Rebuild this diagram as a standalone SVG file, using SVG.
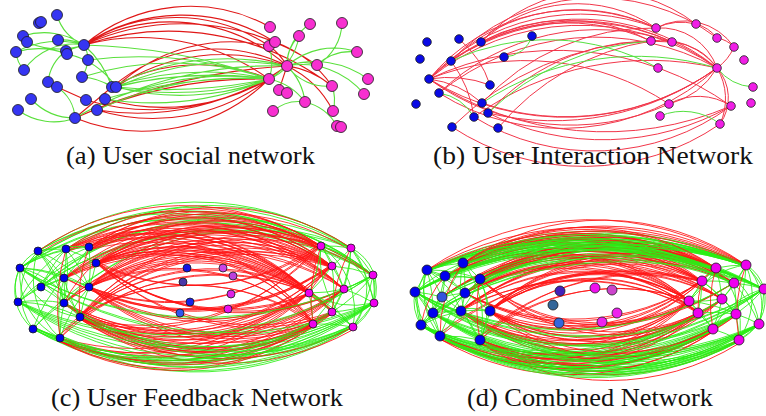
<svg xmlns="http://www.w3.org/2000/svg" width="766" height="416" viewBox="0 0 766 416">
<style>
path{fill:none}
.ra{stroke:#e01818;stroke-width:1.1}
.ga{stroke:#5ae03c;stroke-width:1.1}
.rb{stroke:#f2364a;stroke-width:1}
.gb{stroke:#55e040;stroke-width:1}
.rc{stroke:#ff1414;stroke-width:.85}
.gc{stroke:#2aee14;stroke-width:.85}
circle{stroke:#1a1a1a;stroke-width:.8}
.ab{fill:#3535f2}.ap{fill:#f72fd0}
.bb{fill:#0a0ae6}.bp{fill:#f01ee6}
.cb{fill:#0000ee}.cp{fill:#ee00ee}
.cap{font-family:"Liberation Serif","Times New Roman",serif;font-size:25px;fill:#111}
</style>
<rect width="766" height="416" fill="#fff"/>
<g id="connectors">
<g id="edges-a">
<path class="ra" d="M84 45 A165 165 0 0 1 270 27 M84 45 A167 167 0 0 1 269 46 M84 45 A175 175 0 0 1 275 42 M84 45 A175 175 0 0 1 287 66 M84 45 A240 240 0 0 1 317 65 M84 45 A270 270 0 0 1 332 86 M84 45 A220 220 0 0 1 269 79 M112 87 A160 160 0 0 1 287 66 M116 87 A190 190 0 0 1 287 66 M112 87 A180 180 0 0 1 269 79 M116 87 A170 170 0 0 1 269 46 M75 118 A600 600 0 0 1 287 66 M75 118 A450 450 0 0 1 269 79 M75 118 L112 87 M269 79 A180 180 0 0 1 75 118 M269 79 A190 190 0 0 1 97 110 M269 79 A210 210 0 0 1 105 99 M287 66 A230 230 0 0 1 86 100 M287 66 A260 260 0 0 1 97 110 M57 87 L86 100 M269 46 A60 60 0 0 1 287 66 M275 42 A120 120 0 0 1 332 86 M287 66 A90 90 0 0 1 332 86 M287 66 A100 100 0 0 1 333 111 M287 66 L279 90"/>
<path class="ga" d="M84 45 A45 45 0 0 1 57 15 M23 36 A70 70 0 0 1 84 45 M16 52 A90 90 0 0 1 84 45 M84 45 A80 80 0 0 1 27 42 M58 40 A50 50 0 0 1 84 45 M66 51 L84 45 M84 45 A30 30 0 0 1 88 60 M24 70 A60 60 0 0 1 84 45 M24 70 A30 30 0 0 1 16 52 M88 60 A40 40 0 0 1 82 77 M48 82 A45 45 0 0 1 66 51 M57 87 A40 40 0 0 1 75 118 M75 118 A60 60 0 0 1 31 99 M75 118 A60 60 0 0 1 18 110 M82 77 A60 60 0 0 1 112 87 M67 54 A80 80 0 0 1 116 87 M84 45 A100 100 0 0 1 112 87 M16 52 A80 80 0 0 1 67 54"/>
<path class="ga" d="M112 87 A300 300 0 0 1 269 79 M116 87 A400 400 0 0 1 269 79 M112 87 A250 250 0 0 1 287 66 M269 79 A350 350 0 0 1 112 87 M269 79 A250 250 0 0 1 116 87 M97 110 A350 350 0 0 1 269 79 M105 99 A500 500 0 0 1 269 79 M82 77 A300 300 0 0 1 269 79 M84 45 A600 600 0 0 1 269 79 M88 60 A400 400 0 0 1 269 79 M75 118 A400 400 0 0 1 287 66 M75 118 A300 300 0 0 1 269 79 M269 79 A300 300 0 0 1 105 99 M116 87 A300 300 0 0 1 287 66 M112 87 A450 450 0 0 1 269 79 M269 79 A500 500 0 0 1 116 87"/>
<path class="ga" d="M287 66 A40 40 0 0 1 317 65 M287 66 A70 70 0 0 1 357 52 M287 66 A90 90 0 0 1 368 79 M332 86 A50 50 0 0 1 287 66 M287 66 A80 80 0 0 1 364 94 M287 66 A60 60 0 0 1 305 102 M287 66 A40 40 0 0 1 299 36 M287 66 A50 50 0 0 1 310 24 M342 23 A50 50 0 0 1 317 65 M317 65 A50 50 0 0 1 357 52 M299 36 A60 60 0 0 1 269 79 M269 79 A60 60 0 0 1 305 102 M273 111 A40 40 0 0 1 305 102 M305 102 A50 50 0 0 1 337 126 M332 86 A40 40 0 0 1 333 111 M287 66 A40 40 0 0 1 269 79 M269 46 A50 50 0 0 1 269 79"/>
</g>
<g id="edges-b">
<path class="rb" d="M429 79 A190 190 0 0 1 656 28 M429 79 A200 200 0 0 1 651 41 M429 79 A220 220 0 0 1 672 42 M429 79 A240 240 0 0 1 717 68 M429 79 A260 260 0 0 1 669 104 M429 79 A300 300 0 0 1 731 106 M481 42 A140 140 0 0 1 656 28 M481 42 A220 220 0 0 1 717 68 M481 42 A160 160 0 0 1 696 24 M451 61 A180 180 0 0 1 656 28 M451 61 A230 230 0 0 1 717 68 M451 61 A200 200 0 0 1 717 38 M459 39 A100 100 0 0 1 490 85 M451 61 A120 120 0 0 1 474 117 M429 79 A100 100 0 0 1 482 103 M429 79 A120 120 0 0 1 490 85 M439 93 A250 250 0 0 1 717 68 M439 93 A230 230 0 0 1 672 42 M452 127 A300 300 0 0 1 651 41 M498 128 A250 250 0 0 1 651 41 M488 113 A220 220 0 0 1 672 42 M482 103 A230 230 0 0 1 656 28 M474 117 A300 300 0 0 1 717 68 M429 79 A210 210 0 0 1 656 28 M481 42 A180 180 0 0 1 651 41"/>
<path class="rb" d="M717 68 A260 260 0 0 1 429 79 M717 68 A230 230 0 0 1 439 93 M731 106 A230 230 0 0 1 474 117 M720 124 A240 240 0 0 1 452 127 M669 104 A240 240 0 0 1 429 79 M731 106 A260 260 0 0 1 488 113 M717 68 A280 280 0 0 1 488 113 M731 106 A320 320 0 0 1 429 79 M717 68 A260 260 0 0 1 482 103 M656 28 A60 60 0 0 1 696 24 M696 24 A40 40 0 0 1 717 38 M717 38 A30 30 0 0 1 734 47 M656 28 A60 60 0 0 1 717 68 M651 41 A70 70 0 0 1 717 68 M672 42 A60 60 0 0 1 717 68 M717 68 A60 60 0 0 1 720 124 M717 68 A45 45 0 0 1 720 124 M669 104 A60 60 0 0 1 731 106 M717 68 A80 80 0 0 1 669 104 M734 47 A50 50 0 0 1 717 68 M656 28 A60 60 0 0 1 734 47"/>
<path class="gb" d="M532 36 A30 30 0 0 1 504 57 M451 61 A230 230 0 0 1 658 68 M488 113 A260 260 0 0 1 651 41 M482 103 A280 280 0 0 1 717 68 M439 93 A50 50 0 0 1 474 117 M753 87 A50 50 0 0 1 717 68 M660 116 A60 60 0 0 1 720 124"/>
</g>
<g id="edges-c">
<path id="c-gu" class="gc" d="M38 251 A282 282 0 0 1 351 248 M20 268 A272 272 0 0 1 321 246 M20 268 A318 318 0 0 1 373 275 M66 249 A257 257 0 0 1 351 248 M18 302 A315 315 0 0 1 373 275 M41 287 A280 280 0 0 1 351 248 M38 251 A302 302 0 0 1 373 275 M89 247 A256 256 0 0 1 373 275 M33 329 A290 290 0 0 1 351 248 M20 268 A298 298 0 0 1 351 248 M64 278 A278 278 0 0 1 373 275 M41 287 A252 252 0 0 1 321 246 M18 302 A275 275 0 0 1 321 246 M38 251 A265 265 0 0 1 332 266 M66 249 A276 276 0 0 1 373 275 M20 268 A281 281 0 0 1 332 266 M41 287 A299 299 0 0 1 373 275 M64 303 A260 260 0 0 1 351 248"/>
<path id="c-gl" class="gc" d="M353 327 A320 320 0 0 1 33 329 M374 303 A356 356 0 0 1 18 302 M353 327 A293 293 0 0 1 60 338 M313 324 A280 280 0 0 1 33 329 M374 303 A341 341 0 0 1 33 329 M353 327 A335 335 0 0 1 18 302 M373 275 A353 353 0 0 1 20 268 M374 303 A314 314 0 0 1 60 338 M332 312 A300 300 0 0 1 33 329 M353 327 A273 273 0 0 1 80 317 M373 275 A355 355 0 0 1 18 302 M374 303 A354 354 0 0 1 20 268 M353 327 A289 289 0 0 1 64 303 M374 303 A294 294 0 0 1 80 317"/>
<path id="c-ru" class="rc" d="M66 249 A230 230 0 0 1 321 246 M66 249 A240 240 0 0 1 332 266 M66 249 A250 250 0 0 1 344 289 M66 249 A220 220 0 0 1 309 293 M89 247 A210 210 0 0 1 321 246 M89 247 A218 218 0 0 1 332 266 M89 247 A200 200 0 0 1 309 293 M89 247 A205 205 0 0 1 313 324 M96 263 A205 205 0 0 1 321 246 M96 263 A212 212 0 0 1 332 266 M96 263 A225 225 0 0 1 344 289 M96 263 A190 190 0 0 1 309 293 M96 263 A215 215 0 0 1 332 312 M64 278 A235 235 0 0 1 321 246 M64 278 A240 240 0 0 1 332 266 M89 287 A212 212 0 0 1 321 246 M89 287 A198 198 0 0 1 309 293 M89 287 A202 202 0 0 1 313 324 M64 303 A245 245 0 0 1 332 266 M80 317 A225 225 0 0 1 321 246 M80 317 A205 205 0 0 1 309 293 M80 317 A210 210 0 0 1 313 324 M60 338 A250 250 0 0 1 332 266 M89 247 A235 235 0 0 1 351 248 M96 263 A250 250 0 0 1 373 275 M89 287 A230 230 0 0 1 344 289 M38 251 A255 255 0 0 1 321 246 M64 278 A245 245 0 0 1 332 312 M64 303 A222 222 0 0 1 309 293 M80 317 A228 228 0 0 1 332 266 M66 249 A245 245 0 0 1 332 312 M96 263 A195 195 0 0 1 313 324 M89 247 A230 230 0 0 1 344 289 M60 338 A228 228 0 0 1 309 293 M64 278 A220 220 0 0 1 309 293 M89 287 A218 218 0 0 1 332 266"/>
<path id="c-rl" class="rc" d="M321 246 A225 225 0 0 1 96 263 M332 266 A245 245 0 0 1 89 287 M344 289 A265 265 0 0 1 80 317 M309 293 A230 230 0 0 1 80 317 M332 312 A250 250 0 0 1 80 317 M313 324 A235 235 0 0 1 80 317 M313 324 A255 255 0 0 1 60 338 M332 312 A270 270 0 0 1 60 338 M309 293 A220 220 0 0 1 89 287 M344 289 A280 280 0 0 1 64 303 M332 266 A265 265 0 0 1 64 278 M353 327 A275 275 0 0 1 80 317 M313 324 A250 250 0 0 1 64 303 M332 312 A235 235 0 0 1 96 263 M309 293 A215 215 0 0 1 96 263 M321 246 A240 240 0 0 1 80 317 M332 266 A275 275 0 0 1 60 338 M309 293 A250 250 0 0 1 60 338 M344 289 A245 245 0 0 1 96 263 M313 324 A225 225 0 0 1 89 287 M332 312 A268 268 0 0 1 64 303 M332 266 A255 255 0 0 1 80 317 M321 246 A232 232 0 0 1 89 287 M309 293 A245 245 0 0 1 64 303 M332 312 A243 243 0 0 1 89 287 M344 289 A285 285 0 0 1 60 338"/>
<use href="#c-ru" transform="translate(0,20.2) scale(1,0.93)"/>
<use href="#c-rl" transform="translate(0,-20.2) scale(1,1.07)"/>
<use href="#c-gl" transform="translate(0,14.4) scale(1,0.95)"/>
<path class="gc" d="M38 251 A150 150 0 0 1 66 249 M38 251 A150 150 0 0 1 89 247 M38 251 A150 150 0 0 1 64 278 M38 251 A150 150 0 0 1 89 287 M66 249 A150 150 0 0 1 96 263 M66 249 A150 150 0 0 1 64 278 M66 249 A150 150 0 0 1 89 287 M89 247 A150 150 0 0 1 64 278 M89 247 A150 150 0 0 1 89 287 M20 268 A150 150 0 0 1 66 249 M20 268 A150 150 0 0 1 89 247 M20 268 A150 150 0 0 1 64 278 M20 268 A150 150 0 0 1 89 287 M20 268 A150 150 0 0 1 64 303 M64 278 A150 150 0 0 1 41 287 M64 278 A150 150 0 0 1 89 287 M64 278 A150 150 0 0 1 64 303 M41 287 A150 150 0 0 1 64 303 M41 287 A150 150 0 0 1 66 249 M18 302 A150 150 0 0 1 64 278 M18 302 A150 150 0 0 1 64 303 M18 302 A150 150 0 0 1 80 317 M18 302 A150 150 0 0 1 66 249 M64 303 A150 150 0 0 1 80 317 M33 329 A150 150 0 0 1 64 303 M33 329 A150 150 0 0 1 60 338 M33 329 A150 150 0 0 1 64 278 M60 338 A150 150 0 0 1 64 303 M60 338 A150 150 0 0 1 64 278 M60 338 A150 150 0 0 1 89 287 M80 317 A150 150 0 0 1 89 287 M80 317 A150 150 0 0 1 64 278 M96 263 A150 150 0 0 1 89 287 M66 249 A150 150 0 0 1 64 303 M38 251 A150 150 0 0 1 64 303 M33 329 A60 60 0 0 1 38 251 M60 338 A70 70 0 0 1 20 268 M18 302 A40 40 0 0 1 38 251 M33 329 A50 50 0 0 1 20 268 M60 338 A80 80 0 0 1 38 251 M80 317 A70 70 0 0 1 20 268 M38 251 A90 90 0 0 1 64 303 M20 268 A90 90 0 0 1 80 317 M41 287 A90 90 0 0 1 89 247"/>
<path class="gc" d="M321 246 A150 150 0 0 1 351 248 M321 246 A150 150 0 0 1 332 266 M321 246 A150 150 0 0 1 344 289 M351 248 A150 150 0 0 1 332 266 M351 248 A150 150 0 0 1 373 275 M351 248 A150 150 0 0 1 344 289 M332 266 A150 150 0 0 1 373 275 M332 266 A150 150 0 0 1 344 289 M332 266 A150 150 0 0 1 309 293 M373 275 A150 150 0 0 1 344 289 M373 275 A150 150 0 0 1 374 303 M344 289 A150 150 0 0 1 309 293 M344 289 A150 150 0 0 1 374 303 M344 289 A150 150 0 0 1 332 312 M309 293 A150 150 0 0 1 332 312 M309 293 A150 150 0 0 1 313 324 M374 303 A150 150 0 0 1 332 312 M374 303 A150 150 0 0 1 353 327 M332 312 A150 150 0 0 1 313 324 M332 312 A150 150 0 0 1 353 327 M313 324 A150 150 0 0 1 353 327 M321 246 A150 150 0 0 1 309 293 M351 248 A150 150 0 0 1 374 303 M373 275 A150 150 0 0 1 332 312 M332 266 A150 150 0 0 1 332 312 M309 293 A150 150 0 0 1 353 327 M321 246 A150 150 0 0 1 373 275 M313 324 A150 150 0 0 1 344 289 M351 248 A150 150 0 0 1 332 312 M373 275 A150 150 0 0 1 353 327 M351 248 A60 60 0 0 1 353 327 M373 275 A45 45 0 0 1 353 327 M351 248 A45 45 0 0 1 374 303 M321 246 A70 70 0 0 1 374 303 M321 246 A80 80 0 0 1 353 327 M353 327 A90 90 0 0 1 321 246 M374 303 A90 90 0 0 1 309 293"/>
<path class="rc" d="M60 338 A200 200 0 0 1 66 249 M80 317 A150 150 0 0 1 89 247 M64 303 A120 120 0 0 1 96 263 M313 324 A150 150 0 0 1 321 246 M332 312 A160 160 0 0 1 351 248 M309 293 A100 100 0 0 1 332 266"/>
</g>
<g id="edges-d">
<path id="d-gu" class="gc" d="M427 270 A415 415 0 0 1 746 265 M427 270 A347 347 0 0 1 716 268 M463 263 A391 391 0 0 1 764 289 M415 292 A397 397 0 0 1 746 265 M427 270 A338 338 0 0 1 734 283 M445 276 A376 376 0 0 1 746 265 M415 292 A331 331 0 0 1 716 268 M463 263 A340 340 0 0 1 746 265 M427 270 A388 388 0 0 1 764 289 M445 276 A383 383 0 0 1 764 289 M415 292 A335 335 0 0 1 734 283 M442 297 A334 334 0 0 1 746 265 M433 313 A364 364 0 0 1 764 289 M463 263 A352 352 0 0 1 734 283 M480 279 A319 319 0 0 1 746 265 M433 313 A329 329 0 0 1 746 265 M421 325 A325 325 0 0 1 716 268 M415 292 A384 384 0 0 1 764 289 M445 276 A379 379 0 0 1 716 268 M465 293 A323 323 0 0 1 746 265 M480 279 A341 341 0 0 1 764 289 M442 297 A336 336 0 0 1 734 283 M427 270 A370 370 0 0 1 746 265 M463 263 A330 330 0 0 1 716 268 M463 263 A380 380 0 0 1 746 265 M427 270 A400 400 0 0 1 716 268"/>
<path id="d-gl" class="gc" d="M759 324 A345 345 0 0 1 421 325 M739 340 A320 320 0 0 1 440 336 M739 340 A330 330 0 0 1 421 325 M759 324 A330 330 0 0 1 440 336 M736 314 A330 330 0 0 1 421 325 M764 289 A360 360 0 0 1 415 292 M713 329 A300 300 0 0 1 421 325 M739 340 A280 280 0 0 1 480 340 M759 324 A340 340 0 0 1 433 313 M736 314 A300 300 0 0 1 440 336 M764 289 A350 350 0 0 1 421 325 M759 324 A355 355 0 0 1 415 292 M713 329 A285 285 0 0 1 440 336 M739 340 A320 320 0 0 1 433 313 M736 314 A315 315 0 0 1 433 313 M759 324 A290 290 0 0 1 480 340 M764 289 A345 345 0 0 1 433 313 M698 313 A285 285 0 0 1 421 325 M739 340 A295 295 0 0 1 461 311 M722 299 A320 320 0 0 1 421 325 M759 324 A310 310 0 0 1 461 311 M734 283 A330 330 0 0 1 415 292 M713 329 A290 290 0 0 1 433 313 M736 314 A335 335 0 0 1 415 292"/>
<path id="d-ru" class="rc" d="M463 263 A240 240 0 0 1 716 268 M463 263 A283 283 0 0 1 746 265 M463 263 A215 215 0 0 1 702 281 M480 279 A212 212 0 0 1 716 268 M480 279 A211 211 0 0 1 702 281 M480 279 A178 178 0 0 1 689 301 M445 276 A271 271 0 0 1 716 268 M445 276 A275 275 0 0 1 734 283 M465 293 A226 226 0 0 1 716 268 M465 293 A201 201 0 0 1 702 281 M465 293 A257 257 0 0 1 722 299 M465 293 A202 202 0 0 1 689 301 M490 311 A215 215 0 0 1 716 268 M490 311 A191 191 0 0 1 702 281 M490 311 A177 177 0 0 1 698 313 M461 311 A259 259 0 0 1 734 283 M461 311 A205 205 0 0 1 689 301 M442 297 A247 247 0 0 1 702 281 M442 297 A274 274 0 0 1 716 268 M427 270 A335 335 0 0 1 746 265 M480 279 A254 254 0 0 1 734 283 M490 311 A220 220 0 0 1 722 299 M480 340 A209 209 0 0 1 689 301 M480 340 A233 233 0 0 1 702 281 M461 311 A268 268 0 0 1 716 268 M463 263 A257 257 0 0 1 734 283 M465 293 A210 210 0 0 1 698 313 M480 279 A242 242 0 0 1 722 299 M490 311 A169 169 0 0 1 689 301 M440 336 A288 288 0 0 1 702 281 M445 276 A232 232 0 0 1 689 301 M461 311 A237 237 0 0 1 698 313"/>
<path id="d-rl" class="rc" d="M689 301 A179 179 0 0 1 490 311 M698 313 A207 207 0 0 1 480 340 M713 329 A233 233 0 0 1 480 340 M713 329 A273 273 0 0 1 440 336 M698 313 A225 225 0 0 1 461 311 M722 299 A220 220 0 0 1 490 311 M702 281 A237 237 0 0 1 465 293 M689 301 A205 205 0 0 1 461 311 M736 314 A311 311 0 0 1 440 336 M739 340 A259 259 0 0 1 480 340 M722 299 A261 261 0 0 1 461 311 M698 313 A196 196 0 0 1 480 279 M713 329 A212 212 0 0 1 490 311 M702 281 A191 191 0 0 1 490 311 M689 301 A199 199 0 0 1 480 340 M736 314 A269 269 0 0 1 480 340 M734 283 A269 269 0 0 1 465 293 M713 329 A252 252 0 0 1 461 311 M698 313 A271 271 0 0 1 440 336 M722 299 A242 242 0 0 1 480 340 M716 268 A215 215 0 0 1 490 311 M689 301 A188 188 0 0 1 480 279"/>
<use href="#d-ru" transform="translate(0,20.4) scale(1,0.93)"/>
<use href="#d-rl" transform="translate(0,-20.4) scale(1,1.07)"/>
<use href="#d-gl" transform="translate(0,-8.7) scale(1,1.03)"/>
<use href="#d-gu" transform="translate(0,14.6) scale(1,0.95)"/>
<path class="rc" d="M463 263 A250 250 0 0 1 746 265 M427 270 A290 290 0 0 1 746 265 M463 263 A230 230 0 0 1 716 268"/>
<path class="gc" d="M427 270 A150 150 0 0 1 463 263 M427 270 A150 150 0 0 1 445 276 M427 270 A150 150 0 0 1 480 279 M427 270 A150 150 0 0 1 415 292 M427 270 A150 150 0 0 1 442 297 M427 270 A150 150 0 0 1 433 313 M463 263 A150 150 0 0 1 445 276 M463 263 A150 150 0 0 1 480 279 M463 263 A150 150 0 0 1 465 293 M445 276 A150 150 0 0 1 480 279 M445 276 A150 150 0 0 1 415 292 M445 276 A150 150 0 0 1 442 297 M445 276 A150 150 0 0 1 465 293 M445 276 A150 150 0 0 1 433 313 M480 279 A150 150 0 0 1 465 293 M480 279 A150 150 0 0 1 461 311 M415 292 A150 150 0 0 1 442 297 M415 292 A150 150 0 0 1 433 313 M415 292 A150 150 0 0 1 421 325 M442 297 A150 150 0 0 1 465 293 M442 297 A150 150 0 0 1 433 313 M442 297 A150 150 0 0 1 461 311 M465 293 A150 150 0 0 1 461 311 M465 293 A150 150 0 0 1 490 311 M433 313 A150 150 0 0 1 461 311 M433 313 A150 150 0 0 1 421 325 M433 313 A150 150 0 0 1 440 336 M461 311 A150 150 0 0 1 490 311 M461 311 A150 150 0 0 1 440 336 M461 311 A150 150 0 0 1 480 340 M421 325 A150 150 0 0 1 440 336 M440 336 A150 150 0 0 1 480 340 M490 311 A150 150 0 0 1 480 340 M463 263 A150 150 0 0 1 442 297 M480 279 A150 150 0 0 1 490 311 M415 292 A150 150 0 0 1 440 336 M421 325 A150 150 0 0 1 461 311 M427 270 A150 150 0 0 1 465 293 M415 292 A150 150 0 0 1 463 263 M421 325 A150 150 0 0 1 442 297 M440 336 A150 150 0 0 1 465 293 M421 325 A60 60 0 0 1 427 270 M440 336 A70 70 0 0 1 427 270 M440 336 A50 50 0 0 1 415 292 M433 313 A40 40 0 0 1 427 270 M480 340 A90 90 0 0 1 463 263 M421 325 A45 45 0 0 1 415 292 M463 263 A90 90 0 0 1 480 340 M480 279 A70 70 0 0 1 480 340 M415 292 A80 80 0 0 1 480 279 M421 325 A80 80 0 0 1 490 311 M427 270 A80 80 0 0 1 461 311"/>
<path class="gc" d="M716 268 A150 150 0 0 1 746 265 M716 268 A150 150 0 0 1 702 281 M716 268 A150 150 0 0 1 734 283 M716 268 A150 150 0 0 1 722 299 M746 265 A150 150 0 0 1 734 283 M746 265 A150 150 0 0 1 764 289 M702 281 A150 150 0 0 1 734 283 M702 281 A150 150 0 0 1 722 299 M702 281 A150 150 0 0 1 689 301 M734 283 A150 150 0 0 1 764 289 M734 283 A150 150 0 0 1 722 299 M734 283 A150 150 0 0 1 736 314 M764 289 A150 150 0 0 1 736 314 M764 289 A150 150 0 0 1 759 324 M722 299 A150 150 0 0 1 689 301 M722 299 A150 150 0 0 1 698 313 M722 299 A150 150 0 0 1 736 314 M722 299 A150 150 0 0 1 713 329 M689 301 A150 150 0 0 1 698 313 M698 313 A150 150 0 0 1 736 314 M698 313 A150 150 0 0 1 713 329 M736 314 A150 150 0 0 1 759 324 M736 314 A150 150 0 0 1 713 329 M736 314 A150 150 0 0 1 739 340 M759 324 A150 150 0 0 1 739 340 M713 329 A150 150 0 0 1 739 340 M746 265 A150 150 0 0 1 736 314 M716 268 A150 150 0 0 1 689 301 M702 281 A150 150 0 0 1 698 313 M734 283 A150 150 0 0 1 759 324 M689 301 A150 150 0 0 1 713 329 M746 265 A150 150 0 0 1 722 299 M689 301 A150 150 0 0 1 736 314 M702 281 A150 150 0 0 1 736 314 M746 265 A60 60 0 0 1 759 324 M746 265 A80 80 0 0 1 739 340 M716 268 A80 80 0 0 1 739 340 M764 289 A45 45 0 0 1 739 340 M746 265 A40 40 0 0 1 764 289 M716 268 A70 70 0 0 1 759 324 M689 301 A80 80 0 0 1 746 265 M713 329 A80 80 0 0 1 764 289"/>
<path class="rc" d="M440 336 A120 120 0 0 1 463 263 M480 340 A150 150 0 0 1 480 279 M421 325 A100 100 0 0 1 445 276 M713 329 A120 120 0 0 1 716 268 M739 340 A140 140 0 0 1 746 265 M698 313 A90 90 0 0 1 702 281"/>
</g>
</g>
<g id="nodes-a">
<g id="a-u1"><circle class="ab" cx="57" cy="15" r="5.5"/></g>
<g id="a-u2"><circle class="ab" cx="39" cy="23" r="5.5"/></g>
<g id="a-u3"><circle class="ab" cx="41" cy="22" r="5.5"/></g>
<g id="a-u4"><circle class="ab" cx="23" cy="36" r="5.5"/></g>
<g id="a-u5"><circle class="ab" cx="27" cy="42" r="5.5"/></g>
<g id="a-u6"><circle class="ab" cx="58" cy="40" r="5.5"/></g>
<g id="a-u7"><circle class="ab" cx="16" cy="52" r="5.5"/></g>
<g id="a-u8"><circle class="ab" cx="66" cy="51" r="5.5"/></g>
<g id="a-u9"><circle class="ab" cx="67" cy="54" r="5.5"/></g>
<g id="a-u10"><circle class="ab" cx="84" cy="45" r="5.5"/></g>
<g id="a-u11"><circle class="ab" cx="88" cy="60" r="5.5"/></g>
<g id="a-u12"><circle class="ab" cx="24" cy="70" r="5.5"/></g>
<g id="a-u13"><circle class="ab" cx="82" cy="77" r="5.5"/></g>
<g id="a-u14"><circle class="ab" cx="48" cy="82" r="5.5"/></g>
<g id="a-u15"><circle class="ab" cx="57" cy="87" r="5.5"/></g>
<g id="a-u16"><circle class="ab" cx="112" cy="87" r="5.5"/></g>
<g id="a-u17"><circle class="ab" cx="116" cy="87" r="5.5"/></g>
<g id="a-u18"><circle class="ab" cx="31" cy="99" r="5.5"/></g>
<g id="a-u19"><circle class="ab" cx="86" cy="100" r="5.5"/></g>
<g id="a-u20"><circle class="ab" cx="105" cy="99" r="5.5"/></g>
<g id="a-u21"><circle class="ab" cx="18" cy="110" r="5.5"/></g>
<g id="a-u22"><circle class="ab" cx="97" cy="110" r="5.5"/></g>
<g id="a-u23"><circle class="ab" cx="75" cy="118" r="5.5"/></g>
<g id="a-p1"><circle class="ap" cx="270" cy="27" r="5.5"/></g>
<g id="a-p2"><circle class="ap" cx="310" cy="24" r="5.5"/></g>
<g id="a-p3"><circle class="ap" cx="342" cy="23" r="5.5"/></g>
<g id="a-p4"><circle class="ap" cx="299" cy="36" r="5.5"/></g>
<g id="a-p5"><circle class="ap" cx="269" cy="46" r="5.5"/></g>
<g id="a-p6"><circle class="ap" cx="275" cy="42" r="5.5"/></g>
<g id="a-p7"><circle class="ap" cx="287" cy="66" r="5.5"/></g>
<g id="a-p8"><circle class="ap" cx="317" cy="65" r="5.5"/></g>
<g id="a-p9"><circle class="ap" cx="357" cy="52" r="5.5"/></g>
<g id="a-p10"><circle class="ap" cx="269" cy="79" r="5.5"/></g>
<g id="a-p11"><circle class="ap" cx="368" cy="79" r="5.5"/></g>
<g id="a-p12"><circle class="ap" cx="332" cy="86" r="5.5"/></g>
<g id="a-p13"><circle class="ap" cx="279" cy="90" r="5.5"/></g>
<g id="a-p14"><circle class="ap" cx="287" cy="93" r="5.5"/></g>
<g id="a-p15"><circle class="ap" cx="364" cy="94" r="5.5"/></g>
<g id="a-p16"><circle class="ap" cx="305" cy="102" r="5.5"/></g>
<g id="a-p17"><circle class="ap" cx="273" cy="111" r="5.5"/></g>
<g id="a-p18"><circle class="ap" cx="333" cy="111" r="5.5"/></g>
<g id="a-p19"><circle class="ap" cx="337" cy="126" r="5.5"/></g>
<g id="a-p20"><circle class="ap" cx="341" cy="127" r="5.5"/></g>
</g>
<g id="nodes-b">
<g id="b-u1"><circle class="bb" cx="427" cy="42" r="4.3"/></g>
<g id="b-u2"><circle class="bb" cx="459" cy="39" r="4.3"/></g>
<g id="b-u3"><circle class="bb" cx="481" cy="42" r="4.3"/></g>
<g id="b-u4"><circle class="bb" cx="532" cy="36" r="4.3"/></g>
<g id="b-u5"><circle class="bb" cx="420" cy="59" r="4.3"/></g>
<g id="b-u6"><circle class="bb" cx="451" cy="61" r="4.3"/></g>
<g id="b-u7"><circle class="bb" cx="504" cy="57" r="4.3"/></g>
<g id="b-u8"><circle class="bb" cx="429" cy="79" r="4.3"/></g>
<g id="b-u9"><circle class="bb" cx="490" cy="85" r="4.3"/></g>
<g id="b-u10"><circle class="bb" cx="439" cy="93" r="4.3"/></g>
<g id="b-u11"><circle class="bb" cx="416" cy="104" r="4.3"/></g>
<g id="b-u12"><circle class="bb" cx="482" cy="103" r="4.3"/></g>
<g id="b-u13"><circle class="bb" cx="474" cy="117" r="4.3"/></g>
<g id="b-u14"><circle class="bb" cx="488" cy="113" r="4.3"/></g>
<g id="b-u15"><circle class="bb" cx="452" cy="127" r="4.3"/></g>
<g id="b-u16"><circle class="bb" cx="498" cy="128" r="4.3"/></g>
<g id="b-p1"><circle class="bp" cx="656" cy="28" r="4.3"/></g>
<g id="b-p2"><circle class="bp" cx="696" cy="24" r="4.3"/></g>
<g id="b-p3"><circle class="bp" cx="651" cy="41" r="4.3"/></g>
<g id="b-p4"><circle class="bp" cx="672" cy="42" r="4.3"/></g>
<g id="b-p5"><circle class="bp" cx="717" cy="38" r="4.3"/></g>
<g id="b-p6"><circle class="bp" cx="734" cy="47" r="4.3"/></g>
<g id="b-p7"><circle class="bp" cx="744" cy="60" r="4.3"/></g>
<g id="b-p8"><circle class="bp" cx="658" cy="68" r="4.3"/></g>
<g id="b-p9"><circle class="bp" cx="717" cy="68" r="4.3"/></g>
<g id="b-p10"><circle class="bp" cx="753" cy="87" r="4.3"/></g>
<g id="b-p11"><circle class="bp" cx="751" cy="103" r="4.3"/></g>
<g id="b-p12"><circle class="bp" cx="669" cy="104" r="4.3"/></g>
<g id="b-p13"><circle class="bp" cx="731" cy="106" r="4.3"/></g>
<g id="b-p14"><circle class="bp" cx="660" cy="116" r="4.3"/></g>
<g id="b-p15"><circle class="bp" cx="720" cy="124" r="4.3"/></g>
</g>
<g id="nodes-c">
<g id="c-u1"><circle class="cb" cx="38" cy="251" r="4"/></g>
<g id="c-u2"><circle class="cb" cx="66" cy="249" r="4"/></g>
<g id="c-u3"><circle class="cb" cx="89" cy="247" r="4"/></g>
<g id="c-u4"><circle class="cb" cx="96" cy="263" r="4"/></g>
<g id="c-u5"><circle class="cb" cx="20" cy="268" r="4"/></g>
<g id="c-u6"><circle class="cb" cx="64" cy="278" r="4"/></g>
<g id="c-u7"><circle class="cb" cx="41" cy="287" r="4"/></g>
<g id="c-u8"><circle class="cb" cx="89" cy="287" r="4"/></g>
<g id="c-u9"><circle class="cb" cx="18" cy="302" r="4"/></g>
<g id="c-u10"><circle class="cb" cx="64" cy="303" r="4"/></g>
<g id="c-u11"><circle class="cb" cx="80" cy="317" r="4"/></g>
<g id="c-u12"><circle class="cb" cx="33" cy="329" r="4"/></g>
<g id="c-u13"><circle class="cb" cx="60" cy="338" r="4"/></g>
<g id="c-m1"><circle fill="#1414e6" cx="187" cy="268" r="4"/></g>
<g id="c-m2"><circle fill="#4a38a8" cx="183" cy="282" r="4"/></g>
<g id="c-m3"><circle fill="#1a22e8" cx="190" cy="302" r="4"/></g>
<g id="c-m4"><circle fill="#3355ee" cx="180" cy="313" r="4"/></g>
<g id="c-m5"><circle fill="#cc44e6" cx="223" cy="268" r="4"/></g>
<g id="c-m6"><circle fill="#bb40dd" cx="233" cy="276" r="4"/></g>
<g id="c-m7"><circle fill="#dd22e6" cx="231" cy="294" r="4"/></g>
<g id="c-m8"><circle fill="#ee11ee" cx="228" cy="309" r="4"/></g>
<g id="c-p1"><circle class="cp" cx="321" cy="246" r="4"/></g>
<g id="c-p2"><circle class="cp" cx="351" cy="248" r="4"/></g>
<g id="c-p3"><circle class="cp" cx="332" cy="266" r="4"/></g>
<g id="c-p4"><circle class="cp" cx="373" cy="275" r="4"/></g>
<g id="c-p5"><circle class="cp" cx="344" cy="289" r="4"/></g>
<g id="c-p6"><circle class="cp" cx="309" cy="293" r="4"/></g>
<g id="c-p7"><circle class="cp" cx="374" cy="303" r="4"/></g>
<g id="c-p8"><circle class="cp" cx="332" cy="312" r="4"/></g>
<g id="c-p9"><circle class="cp" cx="313" cy="324" r="4"/></g>
<g id="c-p10"><circle class="cp" cx="353" cy="327" r="4"/></g>
</g>
<g id="nodes-d">
<g id="d-u1"><circle class="cb" cx="427" cy="270" r="5"/></g>
<g id="d-u2"><circle class="cb" cx="463" cy="263" r="5"/></g>
<g id="d-u3"><circle class="cb" cx="445" cy="276" r="5"/></g>
<g id="d-u4"><circle class="cb" cx="480" cy="279" r="5"/></g>
<g id="d-u5"><circle class="cb" cx="415" cy="292" r="5"/></g>
<g id="d-u6"><circle fill="#3352dd" cx="442" cy="297" r="5"/></g>
<g id="d-u7"><circle class="cb" cx="465" cy="293" r="5"/></g>
<g id="d-u8"><circle class="cb" cx="433" cy="313" r="5"/></g>
<g id="d-u9"><circle class="cb" cx="461" cy="311" r="5"/></g>
<g id="d-u10"><circle class="cb" cx="490" cy="311" r="5"/></g>
<g id="d-u11"><circle class="cb" cx="421" cy="325" r="5"/></g>
<g id="d-u12"><circle class="cb" cx="440" cy="336" r="5"/></g>
<g id="d-u13"><circle class="cb" cx="480" cy="340" r="5"/></g>
<g id="d-m1"><circle fill="#4422bb" cx="560" cy="291" r="5"/></g>
<g id="d-m2"><circle fill="#336699" cx="553" cy="305" r="5"/></g>
<g id="d-m3"><circle fill="#3366dd" cx="559" cy="323" r="5"/></g>
<g id="d-m4"><circle fill="#ee11ee" cx="595" cy="288" r="5"/></g>
<g id="d-m5"><circle fill="#cc44cc" cx="612" cy="290" r="5"/></g>
<g id="d-m6"><circle fill="#ee22ee" cx="617" cy="313" r="5"/></g>
<g id="d-m7"><circle fill="#ee22ee" cx="602" cy="322" r="5"/></g>
<g id="d-p1"><circle class="cp" cx="716" cy="268" r="5"/></g>
<g id="d-p2"><circle class="cp" cx="746" cy="265" r="5"/></g>
<g id="d-p3"><circle class="cp" cx="702" cy="281" r="5"/></g>
<g id="d-p4"><circle class="cp" cx="734" cy="283" r="5"/></g>
<g id="d-p5"><circle class="cp" cx="764" cy="289" r="5"/></g>
<g id="d-p6"><circle class="cp" cx="722" cy="299" r="5"/></g>
<g id="d-p7"><circle class="cp" cx="689" cy="301" r="5"/></g>
<g id="d-p8"><circle class="cp" cx="698" cy="313" r="5"/></g>
<g id="d-p9"><circle class="cp" cx="736" cy="314" r="5"/></g>
<g id="d-p10"><circle class="cp" cx="759" cy="324" r="5"/></g>
<g id="d-p11"><circle class="cp" cx="713" cy="329" r="5"/></g>
<g id="d-p12"><circle class="cp" cx="739" cy="340" r="5"/></g>
</g>
<g id="captions">
<text class="cap" x="66" y="164" textLength="249" lengthAdjust="spacingAndGlyphs">(a) User social network</text>
<text class="cap" x="433" y="164" textLength="320" lengthAdjust="spacingAndGlyphs">(b) User Interaction Network</text>
<text class="cap" x="51" y="406" textLength="292" lengthAdjust="spacingAndGlyphs">(c) User Feedback Network</text>
<text class="cap" x="467" y="406" textLength="246" lengthAdjust="spacingAndGlyphs">(d) Combined Network</text>
</g>
</svg>
